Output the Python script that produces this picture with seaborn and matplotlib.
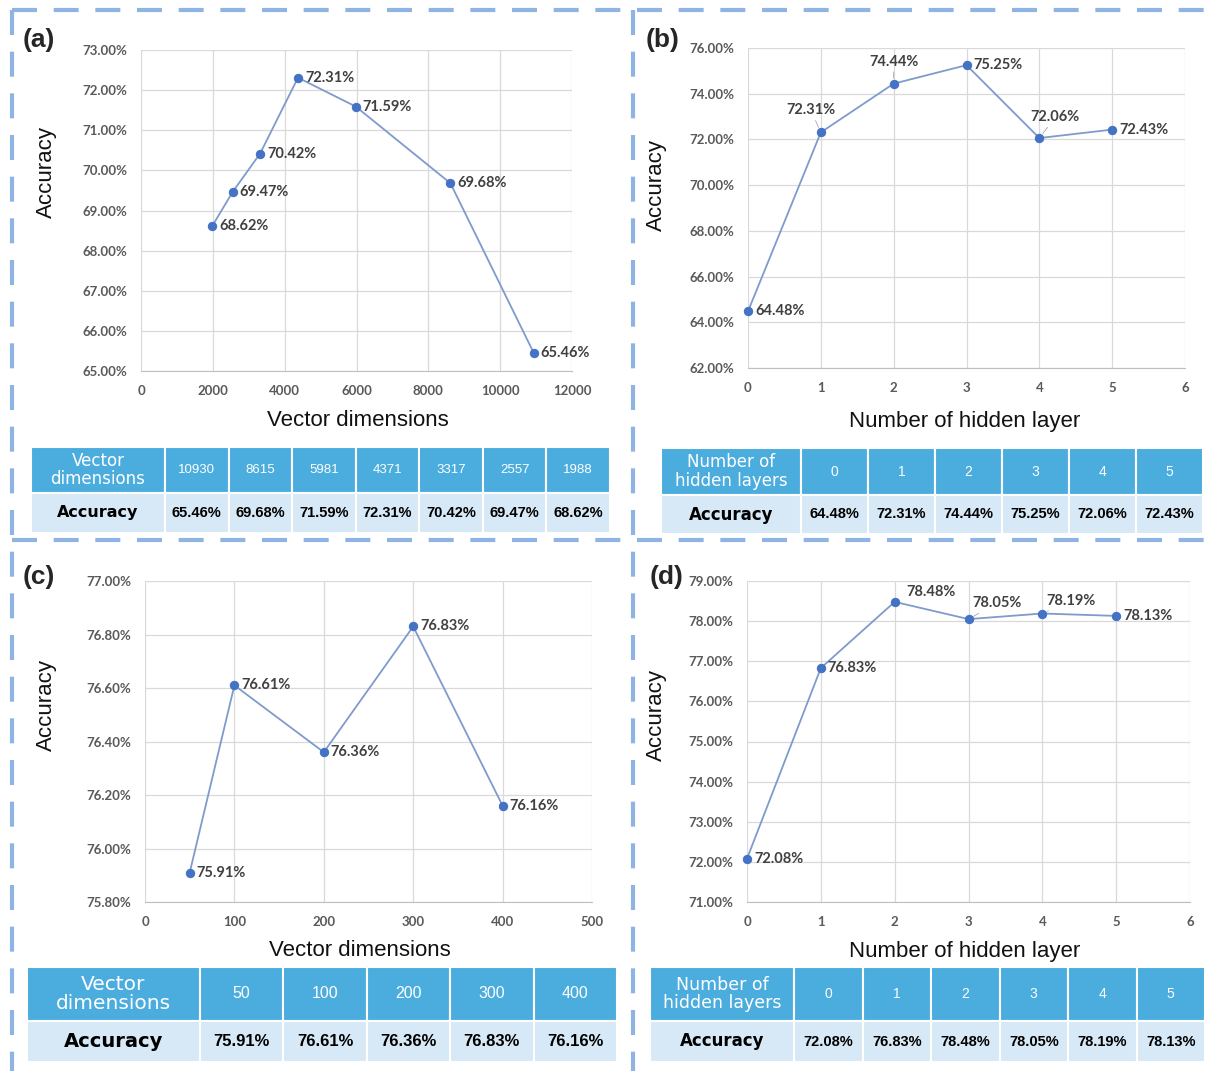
import numpy as np
import pandas as pd
import matplotlib
matplotlib.use("Agg")
import matplotlib.pyplot as plt
import seaborn as sns

# Datos de cada panel
dims_a = [10930, 8615, 5981, 4371, 3317, 2557, 1988]
acc_a = [65.46, 69.68, 71.59, 72.31, 70.42, 69.47, 68.62]

layers_b = [0, 1, 2, 3, 4, 5]
acc_b = [64.48, 72.31, 74.44, 75.25, 72.06, 72.43]

dims_c = [50, 100, 200, 300, 400]
acc_c = [75.91, 76.61, 76.36, 76.83, 76.16]

layers_d = [0, 1, 2, 3, 4, 5]
acc_d = [72.08, 76.83, 78.48, 78.05, 78.19, 78.13]

W, H = 1220, 1071
sns.set_style("white")

LINE = "#7f9bcc"
DOT = "#4472c4"
TICK = "#595959"
LABEL = "#404040"
HEAD = "#4badde"
ROW = "#d7e9f6"
DASH = "#8fb4e3"
SANS = "Liberation Sans"


def rect(x0, y0, x1, y1):
    # pasa pixeles (origen arriba-izquierda) a fracciones de figura
    return [x0 / W, 1 - y1 / H, (x1 - x0) / W, (y1 - y0) / H]


fig = plt.figure(figsize=(W / 100, H / 100), dpi=100)

# capa para los bordes punteados
over = fig.add_axes([0, 0, 1, 1], zorder=-1)
over.set_xlim(0, W)
over.set_ylim(H, 0)
over.axis("off")
dash = dict(color=DASH, lw=3, ls=(0, (6, 4)))
over.plot([12, W], [10, 10], **dash)
over.plot([12, 12], [10, H], **dash)
over.plot([633, 633], [10, H], **dash)
over.plot([12, W], [540, 540], **dash)


def panel(box, xs, ys, xlim, xticks, ylim, yticks, xlabel, tag, tagpos, ylabpos, xlabpos, offsets):
    x0, y0, x1, y1 = box
    ax = fig.add_axes(rect(*box))
    sns.lineplot(x=xs, y=ys, ax=ax, color=LINE, linewidth=1.3, marker="o",
                 markersize=6, markerfacecolor=DOT, markeredgecolor=DOT, clip_on=False)
    ax.set_xlim(*xlim)
    ax.set_ylim(*ylim)
    tfont = dict(family="Lato", fontweight="bold", fontsize=9.5, color=TICK)
    ax.set_xticks(xticks, [str(int(v)) for v in xticks], **tfont)
    ax.set_yticks(yticks, [f"{v:.2f}%" for v in yticks], **tfont)
    ax.grid(True, color="#d9d9d9", lw=0.9)
    for s in ["top", "right", "left"]:
        ax.spines[s].set_visible(False)
    ax.spines["bottom"].set_color("#bfbfbf")
    ax.tick_params(length=0, pad=10)
    ax.set_xlabel(xlabel, fontsize=16, family=SANS, color="#111111")
    ax.set_ylabel("Accuracy", fontsize=16, family=SANS, color="#111111")
    ax.xaxis.set_label_coords((xlabpos[0] - x0) / (x1 - x0), 1 - (xlabpos[1] - y0) / (y1 - y0))
    ax.yaxis.set_label_coords((ylabpos[0] - x0) / (x1 - x0), 1 - (ylabpos[1] - y0) / (y1 - y0))
    ax.xaxis.label.set_va("center")
    ax.yaxis.label.set_va("center")
    for x, y, off in zip(xs, ys, offsets):
        dx, dy, ha = off
        kw = {}
        if ha == "center" or dy > 12:
            kw = dict(arrowprops=dict(arrowstyle="-", color="#a6a6a6", lw=0.6, shrinkA=0, shrinkB=4))
        ax.annotate(f"{y:.2f}%", (x, y), xytext=(dx * 0.72, dy * 0.72), textcoords="offset points",
                    ha=ha, va="center", fontsize=10.5, fontweight="bold", family="Lato",
                    color=LABEL, **kw)
    fig.text(tagpos[0] / W, 1 - tagpos[1] / H, tag, fontsize=19, fontweight="bold",
             family=SANS, ha="center", va="center")
    return ax


def table(box, head, cols, vals, fs_head, fs_num, fs_val, fs_acc, first_w):
    x0, y0, x1, y1, ymid = box
    ax = fig.add_axes(rect(x0, y0, x1, y1))
    ax.axis("off")
    n = len(cols)
    rest = (1 - first_w) / n
    cells = [[head] + [str(c) for c in cols], ["Accuracy"] + [f"{v:.2f}%" for v in vals]]
    tb = ax.table(cellText=cells, colWidths=[first_w] + [rest] * n, cellLoc="center",
                  bbox=[0, 0, 1, 1])
    tb.auto_set_font_size(False)
    h_head = (ymid - y0) / (y1 - y0)
    for (r, c), cell in tb.get_celld().items():
        cell.set_edgecolor("white")
        cell.set_linewidth(1.5)
        cell.set_height(h_head if r == 0 else 1 - h_head)
        txt = cell.get_text()
        if r == 0:
            cell.set_facecolor(HEAD)
            txt.set_color("white")
            if c == 0:
                txt.set_fontsize(fs_head)
                txt.set_family("DejaVu Sans")
                txt.set_linespacing(1.05)
            else:
                txt.set_fontsize(fs_num)
                txt.set_family(SANS)
        else:
            cell.set_facecolor(ROW)
            txt.set_color("black")
            txt.set_fontweight("bold")
            if c == 0:
                txt.set_fontsize(fs_acc)
                txt.set_family("DejaVu Sans")
            else:
                txt.set_fontsize(fs_val)
                txt.set_family(SANS)
    return ax


offs_a = [(7, 0, "left")] * 7
panel((141, 50, 572, 371), dims_a, acc_a, (0, 12000), np.arange(0, 12001, 2000),
      (65, 73), np.arange(65, 73.01, 1), "Vector dimensions", "(a)", (39, 40),
      (46, 172), (358, 421), offs_a)

offs_b = [(7, 0, "left"), (-10, 22, "center"), (0, 22, "center"), (7, 0, "left"),
          (16, 21, "center"), (7, 0, "left")]
panel((748, 48, 1185, 368), layers_b, acc_b, (0, 6), np.arange(0, 7, 1),
      (62, 76), np.arange(62, 76.01, 2), "Number of hidden layer", "(b)", (663, 40),
      (656, 185), (965, 421), offs_b)

offs_c = [(7, 0, "left")] * 5
panel((145, 581, 592, 902), dims_c, acc_c, (0, 500), np.arange(0, 501, 100),
      (75.8, 77.0), np.arange(75.8, 77.001, 0.2), "Vector dimensions", "(c)", (39, 577),
      (46, 705), (360, 951), offs_c)

offs_d = [(7, 0, "left"), (7, 0, "left"), (12, 10, "left"), (4, 16, "left"),
          (4, 13, "left"), (7, 0, "left")]
panel((747, 581, 1190, 902), layers_d, acc_d, (0, 6), np.arange(0, 7, 1),
      (71, 79), np.arange(71, 79.01, 1), "Number of hidden layer", "(d)", (667, 577),
      (656, 715), (965, 951), offs_d)

table((31, 447, 610, 533, 493), "Vector\ndimensions", dims_a, acc_a, 12, 9.5, 10.5, 11.5, 134 / 579)
table((661, 448, 1203, 534, 495), "Number of\nhidden layers", layers_b, acc_b, 12, 10, 10.5, 12, 140 / 542)
table((27, 967, 617, 1062, 1021), "Vector\ndimensions", dims_c, acc_c, 14.5, 11.5, 12, 14, 173 / 590)
table((650, 967, 1205, 1062, 1021), "Number of\nhidden layers", layers_d, acc_d, 12.5, 10, 10.5, 12, 144 / 555)

fig.savefig("out.png", dpi=100, facecolor="white")
